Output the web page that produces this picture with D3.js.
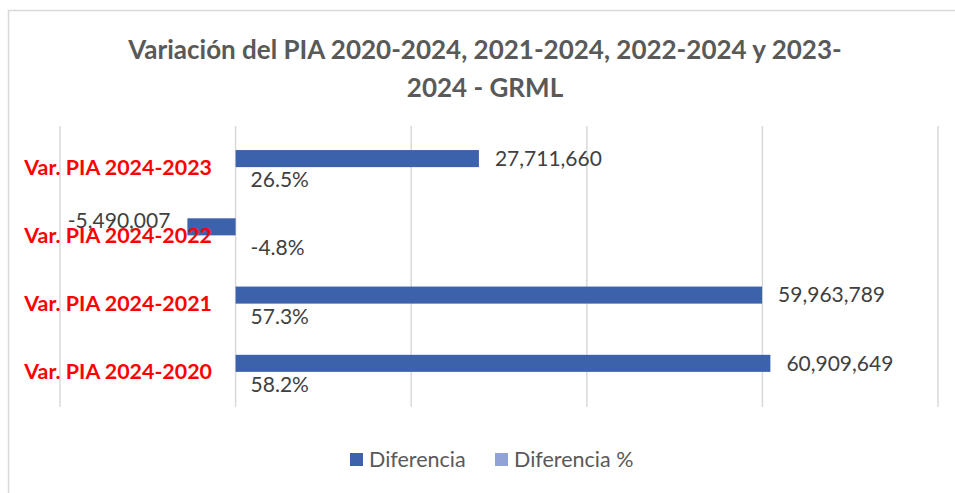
<!DOCTYPE html>
<html>
<head>
<meta charset="utf-8">
<script src="https://cdn.jsdelivr.net/npm/d3@7"></script>
<style>
  body { margin: 0; background: #fff; }
</style>
</head>
<body>
<script>
// Chart data
const categories = ["Var. PIA 2024-2023", "Var. PIA 2024-2022", "Var. PIA 2024-2021", "Var. PIA 2024-2020"];
const diferencia = [27711660, -5490007, 59963789, 60909649];
const diferenciaPct = [0.265, -0.048, 0.573, 0.582];
const seriesNames = ["Diferencia", "Diferencia %"];
const xTicks = [-20000000, 0, 20000000, 40000000, 60000000, 80000000];

const width = 955, height = 493;
const font = "Lato, 'Open Sans', sans-serif";

const svg = d3.select("body").append("svg")
    .attr("width", width)
    .attr("height", height);

// chart border
svg.append("rect")
    .attr("x", 8.5).attr("y", 10.5)
    .attr("width", 960).attr("height", 500)
    .attr("fill", "#fff")
    .attr("stroke", "#d9d9d9")
    .attr("stroke-width", 1.5);

// Title
const title = svg.append("text")
    .attr("text-anchor", "middle")
    .attr("fill", "#595959")
    .style("font", `bold 26px ${font}`);
title.append("tspan").attr("x", 485).attr("y", 59).text("Variación del PIA 2020-2024, 2021-2024, 2022-2024 y 2023-");
title.append("tspan").attr("x", 485).attr("y", 97).text("2024 - GRML");

// Scales
const x = d3.scaleLinear().domain([-20000000, 80000000]).range([60, 938]);
const y = d3.scaleBand().domain(categories).range([133, 406]).paddingInner(0.5).paddingOuter(0.25);
const ySub = d3.scaleBand().domain(seriesNames).range([0, y.bandwidth()]);

// Gridlines
svg.append("g")
  .selectAll("line")
  .data(xTicks)
  .join("line")
    .attr("x1", d => x(d)).attr("x2", d => x(d))
    .attr("y1", 126).attr("y2", 407)
    .attr("stroke", "#d9d9d9")
    .attr("stroke-width", 1.5);

// plain hyphen for negatives, like the original
const locale = d3.formatLocale({decimal: ".", thousands: ",", grouping: [3], currency: ["", ""], minus: "-"});
const fmt = locale.format(",d");
const pctFmt = locale.format(".1%");

// Diferencia bars
svg.append("g")
  .selectAll("rect")
  .data(diferencia)
  .join("rect")
    .attr("x", d => x(Math.min(0, d)))
    .attr("width", d => Math.abs(x(d) - x(0)))
    .attr("y", (d, i) => y(categories[i]) + ySub("Diferencia"))
    .attr("height", ySub.bandwidth())
    .attr("fill", "#3C62AC");

// Diferencia % bars (tiny on this scale)
svg.append("g")
  .selectAll("rect")
  .data(diferenciaPct)
  .join("rect")
    .attr("x", d => x(Math.min(0, d)))
    .attr("width", d => Math.abs(x(d) - x(0)))
    .attr("y", (d, i) => y(categories[i]) + ySub("Diferencia %"))
    .attr("height", ySub.bandwidth())
    .attr("fill", "#8FA3D6");

// Value labels
svg.append("g")
    .style("font", `21px ${font}`)
    .attr("fill", "#404040")
  .selectAll("text")
  .data(diferencia)
  .join("text")
    .attr("x", d => d >= 0 ? x(d) + 16 : x(d) - 17)
    .attr("text-anchor", d => d >= 0 ? "start" : "end")
    .attr("y", (d, i) => y(categories[i]) + ySub("Diferencia") + ySub.bandwidth() / 2 - (d < 0 ? 6 : 0))
    .attr("dy", "0.35em")
    .text(d => fmt(d));

svg.append("g")
    .style("font", `21px ${font}`)
    .attr("fill", "#404040")
  .selectAll("text")
  .data(diferenciaPct)
  .join("text")
    .attr("x", x(0) + 15)
    .attr("y", (d, i) => y(categories[i]) + ySub("Diferencia %") + ySub.bandwidth() / 2 + 4)
    .attr("dy", "0.35em")
    .text(d => pctFmt(d));

// Category labels
svg.append("g")
    .style("font", `bold 21.4px ${font}`)
    .attr("fill", "#ff0000")
    .attr("text-anchor", "end")
  .selectAll("text")
  .data(categories)
  .join("text")
    .attr("x", 212)
    .attr("y", d => y(d) + y.bandwidth() / 2)
    .attr("dy", "0.35em")
    .text(d => d);

// Legend
const legendColors = ["#3C62AC", "#8FA3D6"];
const legend = svg.append("g").style("font", `21.5px ${font}`);
const legendX = [350, 495];
seriesNames.forEach((name, i) => {
  legend.append("rect")
      .attr("x", legendX[i]).attr("y", 453)
      .attr("width", 13).attr("height", 13)
      .attr("fill", legendColors[i]);
  legend.append("text")
      .attr("x", legendX[i] + 19).attr("y", 459)
      .attr("dy", "0.35em")
      .attr("fill", "#595959")
      .text(name);
});
</script>
</body>
</html>
